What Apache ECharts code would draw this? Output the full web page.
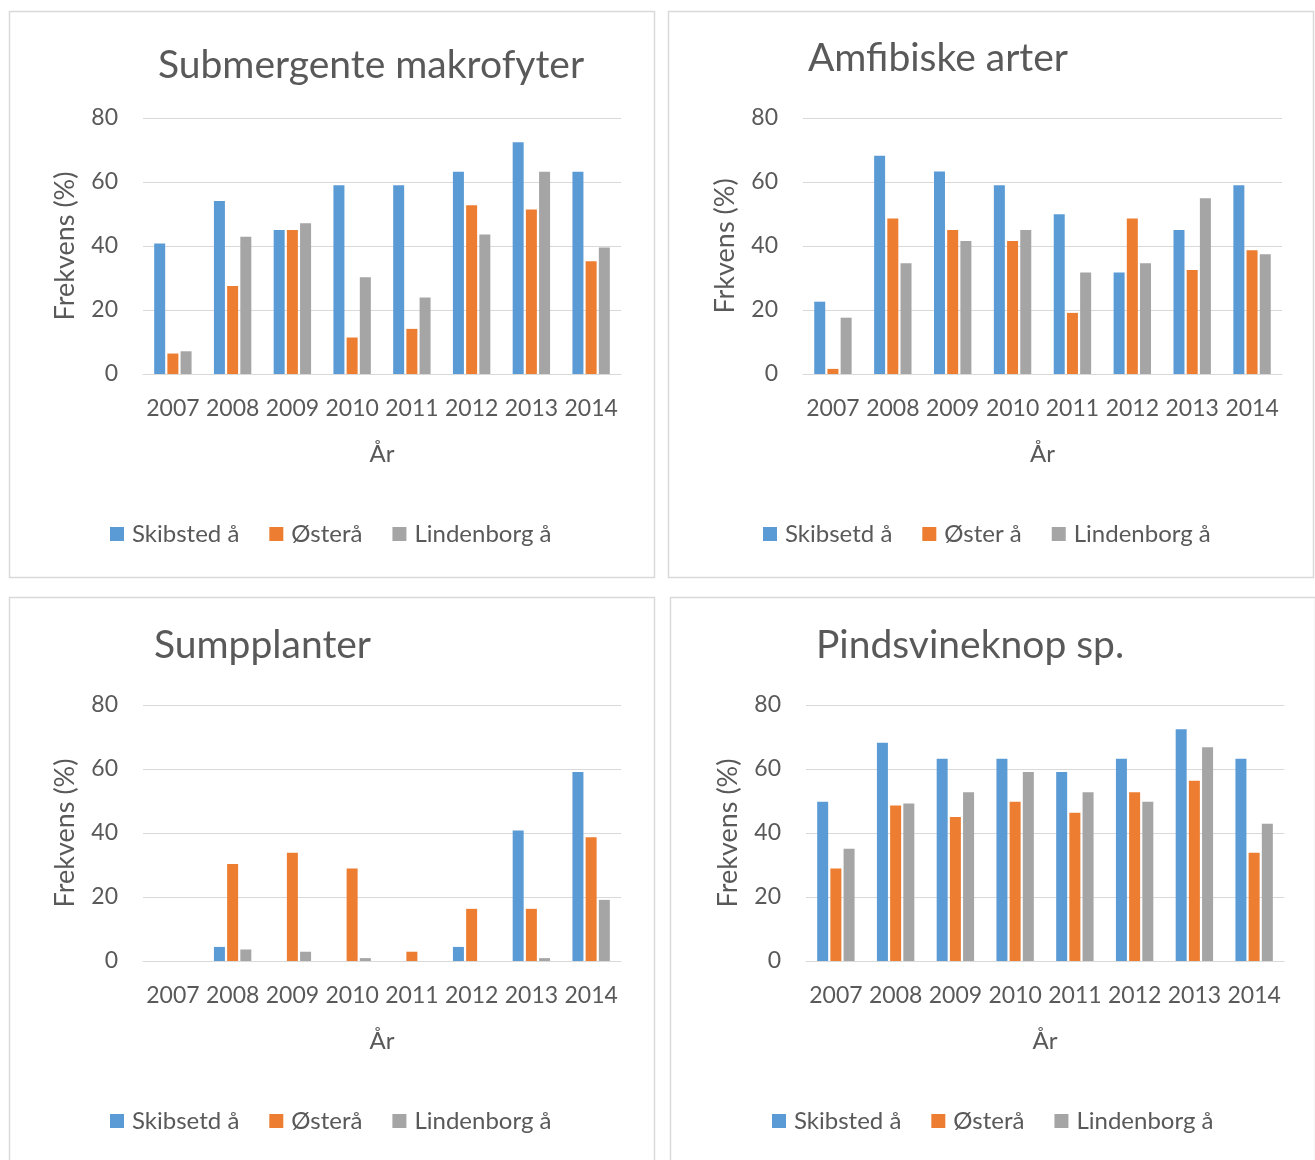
<!DOCTYPE html>
<html>
<head>
<meta charset="utf-8">
<script src="https://cdn.jsdelivr.net/npm/echarts@6/dist/echarts.min.js"></script>
<style>
html,body{margin:0;padding:0;background:#fff;}
#c{width:1315px;height:1160px;}
</style>
</head>
<body>
<div id="c"></div>
<script>
const years = ['2007','2008','2009','2010','2011','2012','2013','2014'];
const yTicks = [0, 20, 40, 60, 80];

// Submergente makrofyter
const subSkibsted = [40.8, 54.1, 45.0, 59.0, 59.0, 63.2, 72.4, 63.2];
const subOster    = [6.4, 27.5, 45.0, 11.4, 14.1, 52.7, 51.4, 35.2];
const subLinden   = [7.1, 42.9, 47.1, 30.2, 23.9, 43.6, 63.2, 39.5];

// Amfibiske arter
const amfSkibsted = [22.6, 68.2, 63.3, 59.0, 49.9, 31.7, 45.0, 59.0];
const amfOster    = [1.6, 48.6, 45.0, 41.6, 19.1, 48.6, 32.5, 38.7];
const amfLinden   = [17.6, 34.6, 41.6, 45.0, 31.7, 34.6, 54.9, 37.4];

// Sumpplanter
const sumSkibsted = [0, 4.4, 0, 0, 0, 4.4, 40.8, 59.1];
const sumOster    = [0, 30.3, 33.8, 28.9, 2.9, 16.3, 16.3, 38.7];
const sumLinden   = [0, 3.6, 2.9, 0.9, 0, 0, 0.9, 19.1];

// Pindsvineknop sp.
const pinSkibsted = [49.8, 68.2, 63.2, 63.2, 59.1, 63.2, 72.4, 63.2];
const pinOster    = [28.9, 48.6, 45.0, 49.8, 46.3, 52.7, 56.3, 33.8];
const pinLinden   = [35.1, 49.2, 52.7, 59.1, 52.7, 49.8, 66.8, 42.9];

const panelTitles = ['Submergente makrofyter', 'Amfibiske arter', 'Sumpplanter', 'Pindsvineknop sp.'];
const yNames = ['Frekvens (%)', 'Frkvens (%)', 'Frekvens (%)', 'Frekvens (%)'];
const xName = 'År';
const legendNames = [
  ['Skibsted å', 'Østerå', 'Lindenborg å'],
  ['Skibsetd å', 'Øster å', 'Lindenborg å'],
  ['Skibsetd å', 'Østerå', 'Lindenborg å'],
  ['Skibsted å', 'Østerå', 'Lindenborg å']
];
const panelData = [
  [subSkibsted, subOster, subLinden],
  [amfSkibsted, amfOster, amfLinden],
  [sumSkibsted, sumOster, sumLinden],
  [pinSkibsted, pinOster, pinLinden]
];

const colors = ['#5B9BD5', '#ED7D31', '#A5A5A5'];
const txt = '#595959';
const font = 'Lato, "Open Sans", sans-serif';

const layout = [
  {box:[9,11,645,566], grid:[143,118,478,256], title:[153,41], legend:[110,522]},
  {box:[668,11,645,566], grid:[803,118,479,256], title:[803,34], legend:[763,522]},
  {box:[9,597,645,600], grid:[143,705,478,256], title:[149,621], legend:[110,1109]},
  {box:[670,597,645,600], grid:[806,705,478,256], title:[811,621], legend:[772,1109]}
];

const option = {
  backgroundColor: '#fff',
  animation: false,
  textStyle: {fontFamily: font},
  title: [], legend: [], grid: [], xAxis: [], yAxis: [], series: [],
  graphic: []
};

layout.forEach((L, i) => {
  option.graphic.push({
    type: 'rect', silent: true,
    shape: {x: L.box[0] + 0.5, y: L.box[1] + 0.5, width: L.box[2], height: L.box[3]},
    style: {fill: 'none', stroke: '#d9d9d9', lineWidth: 1.5}
  });
  option.title.push({
    text: panelTitles[i], left: L.title[0], top: L.title[1],
    textStyle: {fontFamily: font, fontSize: 39, fontWeight: 'normal', color: txt}
  });
  option.legend.push({
    data: legendNames[i], left: L.legend[0], top: L.legend[1], padding: 0,
    icon: 'rect', itemWidth: 14, itemHeight: 14, itemGap: 30,
    textStyle: {fontFamily: font, fontSize: 24, color: txt, padding: [0,0,0,3]}
  });
  option.grid.push({left: L.grid[0], top: L.grid[1], width: L.grid[2], height: L.grid[3]});
  option.xAxis.push({
    type: 'category', gridIndex: i, data: years,
    name: xName, nameLocation: 'middle', nameGap: 68,
    nameTextStyle: {fontFamily: font, fontSize: 24, color: txt},
    axisLine: {lineStyle: {color: '#d9d9d9', width: 1}},
    axisTick: {show: false},
    axisLabel: {fontFamily: font, fontSize: 23, color: txt, margin: 23, interval: 0}
  });
  option.yAxis.push({
    type: 'value', gridIndex: i, min: yTicks[0], max: yTicks[yTicks.length - 1], interval: 20,
    name: yNames[i], nameLocation: 'middle', nameGap: 64,
    nameTextStyle: {fontFamily: font, fontSize: 27, color: txt},
    axisLine: {show: false}, axisTick: {show: false},
    axisLabel: {fontFamily: font, fontSize: 23, color: txt, margin: 25},
    splitLine: {lineStyle: {color: '#d9d9d9', width: 1}}
  });
  panelData[i].forEach((arr, k) => {
    option.series.push({
      type: 'bar', name: legendNames[i][k], xAxisIndex: i, yAxisIndex: i,
      data: arr, barWidth: 11, barGap: '20%',
      itemStyle: {color: colors[k]}
    });
  });
});

const chart = echarts.init(document.getElementById('c'), null, {renderer: 'canvas'});
chart.setOption(option);
</script>
</body>
</html>
